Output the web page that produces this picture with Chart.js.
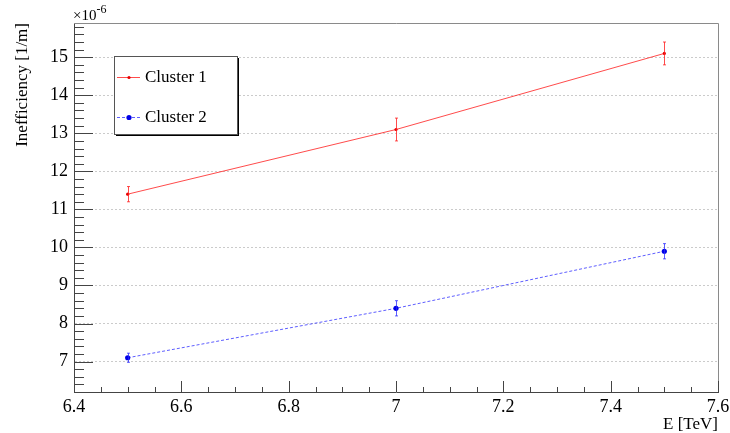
<!DOCTYPE html>
<html>
<head>
<meta charset="utf-8">
<script src="https://cdn.jsdelivr.net/npm/chart.js@4/dist/chart.umd.min.js"></script>
<style>
  html, body { margin: 0; padding: 0; background: #fff; }
  canvas { display: block; }
</style>
</head>
<body>
<canvas id="ineff" width="730" height="433"></canvas>
<script>
// beam energy points [TeV]
var energy = [6.5, 7.0, 7.5];
// inefficiency in units of 1e-6 per metre
var cluster1 = [11.4, 13.1, 15.1];
var cluster1Err = [0.2, 0.3, 0.3];
var cluster2 = [7.1, 8.4, 9.9];
var cluster2Err = [0.12, 0.2, 0.2];

var xTicks = [6.4, 6.6, 6.8, 7.0, 7.2, 7.4, 7.6];
var xTickLabels = ['6.4', '6.6', '6.8', '7', '7.2', '7.4', '7.6'];
var yTicks = [7, 8, 9, 10, 11, 12, 13, 14, 15];
var yTickLabels = ['7', '8', '9', '10', '11', '12', '13', '14', '15'];

var serif = 'Liberation Serif';

function points(ys) {
    return energy.map(function (e, i) { return { x: e, y: ys[i] }; });
}

// vertical error bars with small caps
var errorBars = {
    id: 'errorBars',
    afterDatasetsDraw: function (chart) {
        var ctx = chart.ctx;
        var ys = chart.scales.y;
        chart.data.datasets.forEach(function (ds, di) {
            var meta = chart.getDatasetMeta(di);
            ctx.save();
            ctx.strokeStyle = ds.borderColor;
            ctx.lineWidth = 1;
            meta.data.forEach(function (pt, i) {
                var v = ds.data[i].y, e = ds.errors[i];
                var top = ys.getPixelForValue(v + e);
                var bot = ys.getPixelForValue(v - e);
                var x = Math.round(pt.x) + 0.5;
                ctx.beginPath();
                ctx.moveTo(x, top); ctx.lineTo(x, bot);
                ctx.moveTo(x - 1.5, top); ctx.lineTo(x + 1.5, top);
                ctx.moveTo(x - 1.5, bot); ctx.lineTo(x + 1.5, bot);
                ctx.stroke();
            });
            ctx.restore();
        });
    }
};

// frame, inward tick marks, exponent label and the boxed legend
var frame = {
    id: 'frame',
    afterDraw: function (chart) {
        var ctx = chart.ctx;
        var a = chart.chartArea;
        var xs = chart.scales.x, ys = chart.scales.y;
        ctx.save();

        // top and right frame edges
        ctx.strokeStyle = '#8a8a8a';
        ctx.lineWidth = 1;
        ctx.beginPath();
        ctx.moveTo(a.left, a.top + 0.5); ctx.lineTo(a.right + 0.5, a.top + 0.5);
        ctx.lineTo(a.right + 0.5, a.bottom);
        ctx.stroke();

        // ticks
        ctx.strokeStyle = '#444';
        ctx.beginPath();
        for (var i = 0; i <= 48; i++) {
            var v = 6.2 + i * 0.2;
            if (v > ys.max + 1e-9) break;
            var y = Math.round(ys.getPixelForValue(v)) + 0.5;
            var major = Math.abs(v - Math.round(v)) < 1e-6;
            ctx.moveTo(a.left, y);
            ctx.lineTo(a.left + (major ? 19 : 10), y);
        }
        for (var j = 0; j <= 24; j++) {
            var xv = 6.4 + j * 0.05;
            var x = Math.round(xs.getPixelForValue(xv)) + 0.5;
            var xmaj = j % 4 === 0;
            ctx.moveTo(x, a.bottom);
            ctx.lineTo(x, a.bottom - (xmaj ? 11 : 5));
        }
        ctx.stroke();

        // ×10^-6 above the y axis
        ctx.fillStyle = '#000';
        ctx.textBaseline = 'alphabetic';
        ctx.textAlign = 'left';
        ctx.font = '15px "' + serif + '"';
        ctx.fillText('\u00d710', a.left - 1, 20);
        var w = ctx.measureText('\u00d710').width;
        ctx.font = '12px "' + serif + '"';
        ctx.fillText('-6', a.left - 1 + w, 13);

        // legend box with shadow
        var bx = 114, by = 56, bw = 123, bh = 78;
        ctx.fillStyle = '#000';
        ctx.fillRect(bx + 2, by + 2, bw, bh);
        ctx.fillStyle = '#fff';
        ctx.fillRect(bx, by, bw, bh);
        ctx.strokeStyle = '#555';
        ctx.lineWidth = 1;
        ctx.strokeRect(bx + 0.5, by + 0.5, bw, bh);

        var rows = [77, 117];
        chart.data.datasets.forEach(function (ds, di) {
            var ry = rows[di] + 0.5;
            ctx.strokeStyle = ds.borderColor;
            ctx.setLineDash(ds.borderDash || []);
            ctx.beginPath();
            ctx.moveTo(117, ry); ctx.lineTo(140, ry);
            ctx.stroke();
            ctx.setLineDash([]);
            ctx.fillStyle = ds.pointBackgroundColor;
            ctx.beginPath();
            ctx.arc(129, ry, ds.pointRadius, 0, Math.PI * 2);
            ctx.fill();
            ctx.fillStyle = '#000';
            ctx.font = '17px "' + serif + '"';
            ctx.textBaseline = 'middle';
            ctx.fillText(ds.label, 145, rows[di] + 1);
        });
        ctx.restore();
    }
};

var ctx = document.getElementById('ineff').getContext('2d');
var chart = new Chart(ctx, {
    type: 'line',
    data: {
        datasets: [{
            label: 'Cluster 1',
            data: points(cluster1),
            errors: cluster1Err,
            borderColor: 'rgba(255, 30, 30, 0.8)',
            pointBackgroundColor: 'rgb(230, 0, 0)',
            pointBorderWidth: 0,
            pointRadius: 1.6,
            borderWidth: 1,
            tension: 0
        }, {
            label: 'Cluster 2',
            data: points(cluster2),
            errors: cluster2Err,
            borderColor: 'rgba(40, 40, 255, 0.75)',
            borderDash: [3, 2],
            pointBackgroundColor: 'rgb(0, 0, 230)',
            pointBorderWidth: 0,
            pointRadius: 2.6,
            borderWidth: 1,
            tension: 0
        }]
    },
    options: {
        responsive: false,
        animation: false,
        devicePixelRatio: 1,
        layout: { padding: { top: 23, right: 12, left: 0, bottom: 0 } },
        plugins: {
            legend: { display: false },
            tooltip: { enabled: false }
        },
        scales: {
            x: {
                type: 'linear',
                min: 6.4,
                max: 7.6,
                afterBuildTicks: function (s) {
                    s.ticks = xTicks.map(function (v) { return { value: v }; });
                },
                afterFit: function (s) {
                    s.height = 41;
                    s.paddingLeft = 0;
                    s.paddingRight = 0;
                },
                grid: { display: false, drawTicks: false },
                border: { color: '#444', width: 1 },
                ticks: {
                    color: '#000',
                    padding: 4,
                    autoSkip: false,
                    maxRotation: 0,
                    font: { family: serif, size: 18 },
                    callback: function (v, i) { return xTickLabels[i]; }
                },
                title: {
                    display: true,
                    text: 'E [TeV]',
                    align: 'end',
                    color: '#000',
                    padding: 0,
                    font: { family: serif, size: 17, lineHeight: 1 }
                }
            },
            y: {
                type: 'linear',
                min: 6.2,
                max: 15.9,
                afterBuildTicks: function (s) {
                    s.ticks = yTicks.map(function (v) { return { value: v }; });
                },
                afterFit: function (s) { s.width = 74; },
                grid: { color: '#cbcbcb', lineWidth: 1, drawTicks: false },
                border: { color: '#444', width: 1, dash: [2, 2] },
                ticks: {
                    color: '#000',
                    padding: 6,
                    autoSkip: false,
                    font: { family: serif, size: 18 },
                    callback: function (v, i) { return yTickLabels[i]; }
                },
                title: {
                    display: true,
                    text: 'Inefficiency [1/m]',
                    align: 'end',
                    color: '#000',
                    padding: { top: 12, bottom: 0 },
                    font: { family: serif, size: 17, lineHeight: 1.2 }
                }
            }
        }
    },
    plugins: [errorBars, frame]
});
</script>
</body>
</html>
